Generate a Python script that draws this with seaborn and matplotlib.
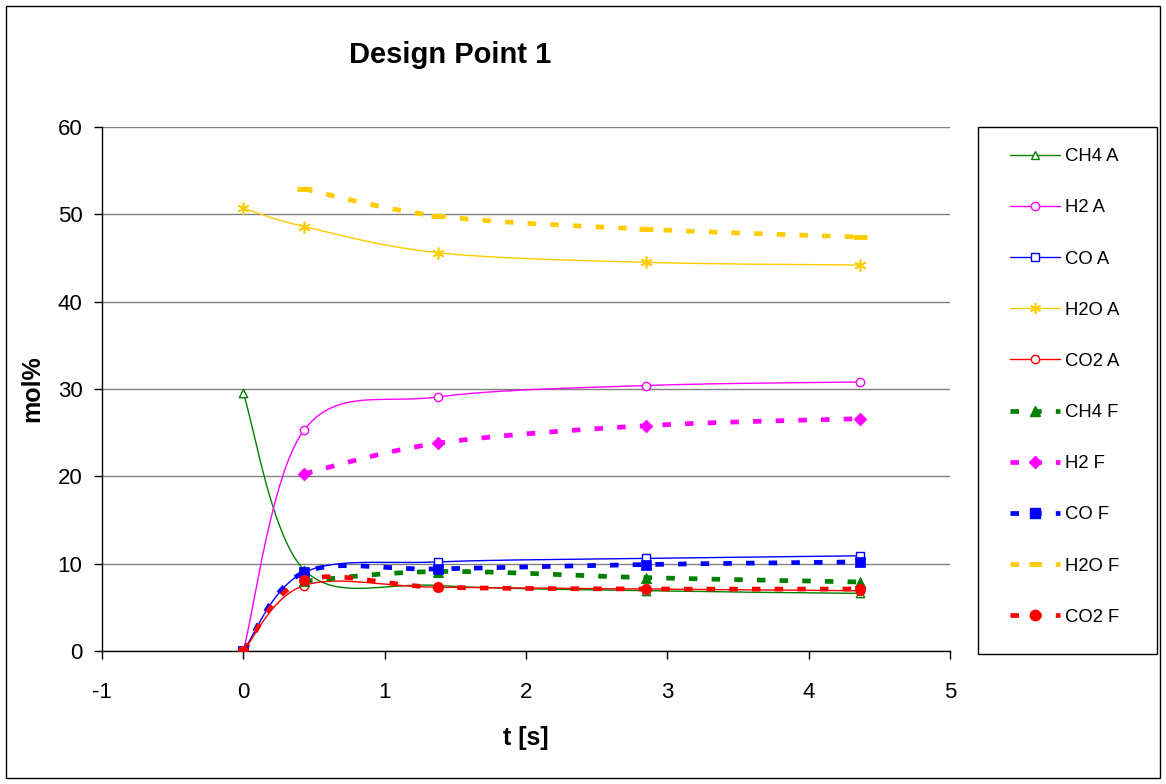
import numpy as np
import pandas as pd
import matplotlib
matplotlib.use("Agg")
import matplotlib.pyplot as plt
from matplotlib.lines import Line2D
from matplotlib.patches import Rectangle
import seaborn as sns

# ---------------- data ----------------
t = [0.0, 0.43, 1.38, 2.85, 4.36]
ch4_a = [29.5, 9.3, 7.5, 6.9, 6.6]
h2_a = [0.0, 25.3, 29.1, 30.4, 30.8]
co_a = [0.0, 9.0, 10.2, 10.6, 10.9]
h2o_a = [50.7, 48.6, 45.6, 44.5, 44.2]
co2_a = [0.0, 7.5, 7.3, 7.1, 6.9]
ch4_f = [np.nan, 8.0, 9.1, 8.4, 7.9]
h2_f = [np.nan, 20.3, 23.8, 25.8, 26.6]
co_f = [0.0, 9.0, 9.4, 9.9, 10.2]
h2o_f = [np.nan, 52.9, 49.8, 48.3, 47.4]
co2_f = [0.0, 8.1, 7.3, 7.1, 7.1]

labels = ["CH4 A", "H2 A", "CO A", "H2O A", "CO2 A",
          "CH4 F", "H2 F", "CO F", "H2O F", "CO2 F"]
title = "Design Point 1"
xlabel = "t [s]"
ylabel = "mol%"

# ---------------- style ----------------
sns.set_style("ticks")
plt.rcParams['font.family'] = ['Liberation Sans', 'DejaVu Sans']
plt.rcParams['axes.unicode_minus'] = False
plt.rcParams['text.color'] = 'black'
plt.rcParams['axes.labelcolor'] = 'black'

GREEN, MAG, BLUE, GOLD, RED = "#008000", "#FF00FF", "#0000FF", "#FFCC00", "#FF0000"
DASH = (0, (1.8, 3.0))
STAR = (6, 2, 0)

series = [
    # values, color, solid?, marker
    (ch4_a, GREEN, True, "^"),
    (h2_a, MAG, True, "o"),
    (co_a, BLUE, True, "s"),
    (h2o_a, GOLD, True, STAR),
    (co2_a, RED, True, "o"),
    (ch4_f, GREEN, False, "^"),
    (h2_f, MAG, False, "D"),
    (co_f, BLUE, False, "s"),
    (h2o_f, GOLD, False, "_"),
    (co2_f, RED, False, "o"),
]


def smooth(xs, ys, n=40):
    """Excel-like smoothed line: cubic Bezier with control points (P[i+1]-P[i-1])/6."""
    P = np.column_stack([xs, ys])
    m = len(P)
    out = []
    for i in range(m - 1):
        p0 = P[max(i - 1, 0)]
        p1 = P[i]
        p2 = P[i + 1]
        p3 = P[min(i + 2, m - 1)]
        c1 = p1 + (p2 - p0) / 6.0
        c2 = p2 - (p3 - p1) / 6.0
        s = np.linspace(0, 1, n)[:, None]
        seg = ((1 - s) ** 3) * p1 + 3 * ((1 - s) ** 2) * s * c1 + 3 * (1 - s) * s ** 2 * c2 + s ** 3 * p2
        if i > 0:
            seg = seg[1:]
        out.append(seg)
    out = np.vstack(out)
    return out[:, 0], out[:, 1]


W, H = 1166, 784
fig = plt.figure(figsize=(W / 100, H / 100), dpi=100)
ax = fig.add_axes([102 / W, 1 - 651 / H, (950 - 102) / W, (651 - 127) / H])

handles = []
for vals, col, solid, mk in series:
    tv = np.array(t)
    vv = np.array(vals, dtype=float)
    ok = ~np.isnan(vv)
    tv, vv = tv[ok], vv[ok]
    sx, sy = smooth(tv, vv)
    df = pd.DataFrame({"x": sx, "y": sy})
    pts = pd.DataFrame({"x": tv, "y": vv})
    if solid:
        sns.lineplot(data=df, x="x", y="y", sort=False, estimator=None, color=col,
                     lw=1.0, ax=ax, legend=False, zorder=3)
        if mk == STAR:
            sns.scatterplot(data=pts, x="x", y="y", marker=mk, s=8.0 ** 2, color=col,
                            linewidths=1.2, ax=ax, legend=False, zorder=5)
            handles.append(Line2D([], [], color=col, lw=1.0, marker=mk, markersize=8,
                                  markeredgecolor=col, markeredgewidth=1.2))
        else:
            sns.scatterplot(data=pts, x="x", y="y", marker=mk, s=6.0 ** 2, facecolor="white",
                            edgecolor=col, linewidths=1.0, ax=ax, legend=False, zorder=5)
            handles.append(Line2D([], [], color=col, lw=1.0, marker=mk, markersize=6,
                                  markerfacecolor="white", markeredgecolor=col,
                                  markeredgewidth=1.0))
    else:
        sns.lineplot(data=df, x="x", y="y", sort=False, estimator=None, color=col,
                     lw=3.4, linestyle=DASH, ax=ax, legend=False, zorder=4,
                     solid_capstyle="butt", dash_capstyle="butt")
        if mk == "_":
            sns.scatterplot(data=pts, x="x", y="y", marker=mk, s=10 ** 2, color=col,
                            linewidths=3.5, ax=ax, legend=False, zorder=6)
            handles.append(Line2D([], [], color=col, lw=3.4, linestyle=DASH, marker="_",
                                  markersize=9, markeredgewidth=3.5, markeredgecolor=col))
        else:
            ms = 7.5 if mk != "D" else 6.5
            sns.scatterplot(data=pts, x="x", y="y", marker=mk, s=ms ** 2, color=col,
                            edgecolor=col, linewidths=0.5, ax=ax, legend=False, zorder=6)
            handles.append(Line2D([], [], color=col, lw=3.4, linestyle=DASH, marker=mk,
                                  markersize=ms, markerfacecolor=col, markeredgecolor=col))

ax.set_xlim(-1, 5)
ax.set_ylim(0, 60)
ax.set_xticks(range(-1, 6))
ax.set_yticks(range(0, 61, 10))
ax.yaxis.grid(True, color="#808080", lw=1.0)
ax.set_axisbelow(True)
for sp in ["top", "right"]:
    ax.spines[sp].set_visible(False)
for sp in ["left", "bottom"]:
    ax.spines[sp].set_color("black")
    ax.spines[sp].set_linewidth(1.0)
ax.tick_params(axis="both", direction="out", length=6, width=1.0, color="black",
               labelsize=16, labelcolor="black")
ax.tick_params(axis="x", pad=16)
ax.tick_params(axis="y", pad=8)
ax.set_xlabel(xlabel, fontsize=18, fontweight="bold", labelpad=17, color="black")
ax.set_ylabel(ylabel, fontsize=18, fontweight="bold", labelpad=10, color="black")

fig.text(450 / W, 1 - 55 / H, title, ha="center", va="center", fontsize=21,
         fontweight="bold", color="black")

# legend box
fig.patches.append(Rectangle((978 / W, 1 - 654 / H), (1157 - 978) / W, (654 - 127) / H,
                             transform=fig.transFigure, fill=False, edgecolor="black", lw=1.0))
leg = fig.legend(handles, labels, loc="center left", bbox_to_anchor=(1010 / W, 1 - 387 / H),
                 frameon=False, fontsize=13.3, handlelength=2.7, handletextpad=0.3,
                 labelspacing=1.85, numpoints=1, borderaxespad=0, borderpad=0)
for txt in leg.get_texts():
    txt.set_color("black")

# outer chart border
fig.patches.append(Rectangle((6 / W, 6 / H), (W - 12) / W, (H - 12) / H,
                             transform=fig.transFigure, fill=False, edgecolor="black", lw=1.0))

fig.savefig("out.png", dpi=100)
